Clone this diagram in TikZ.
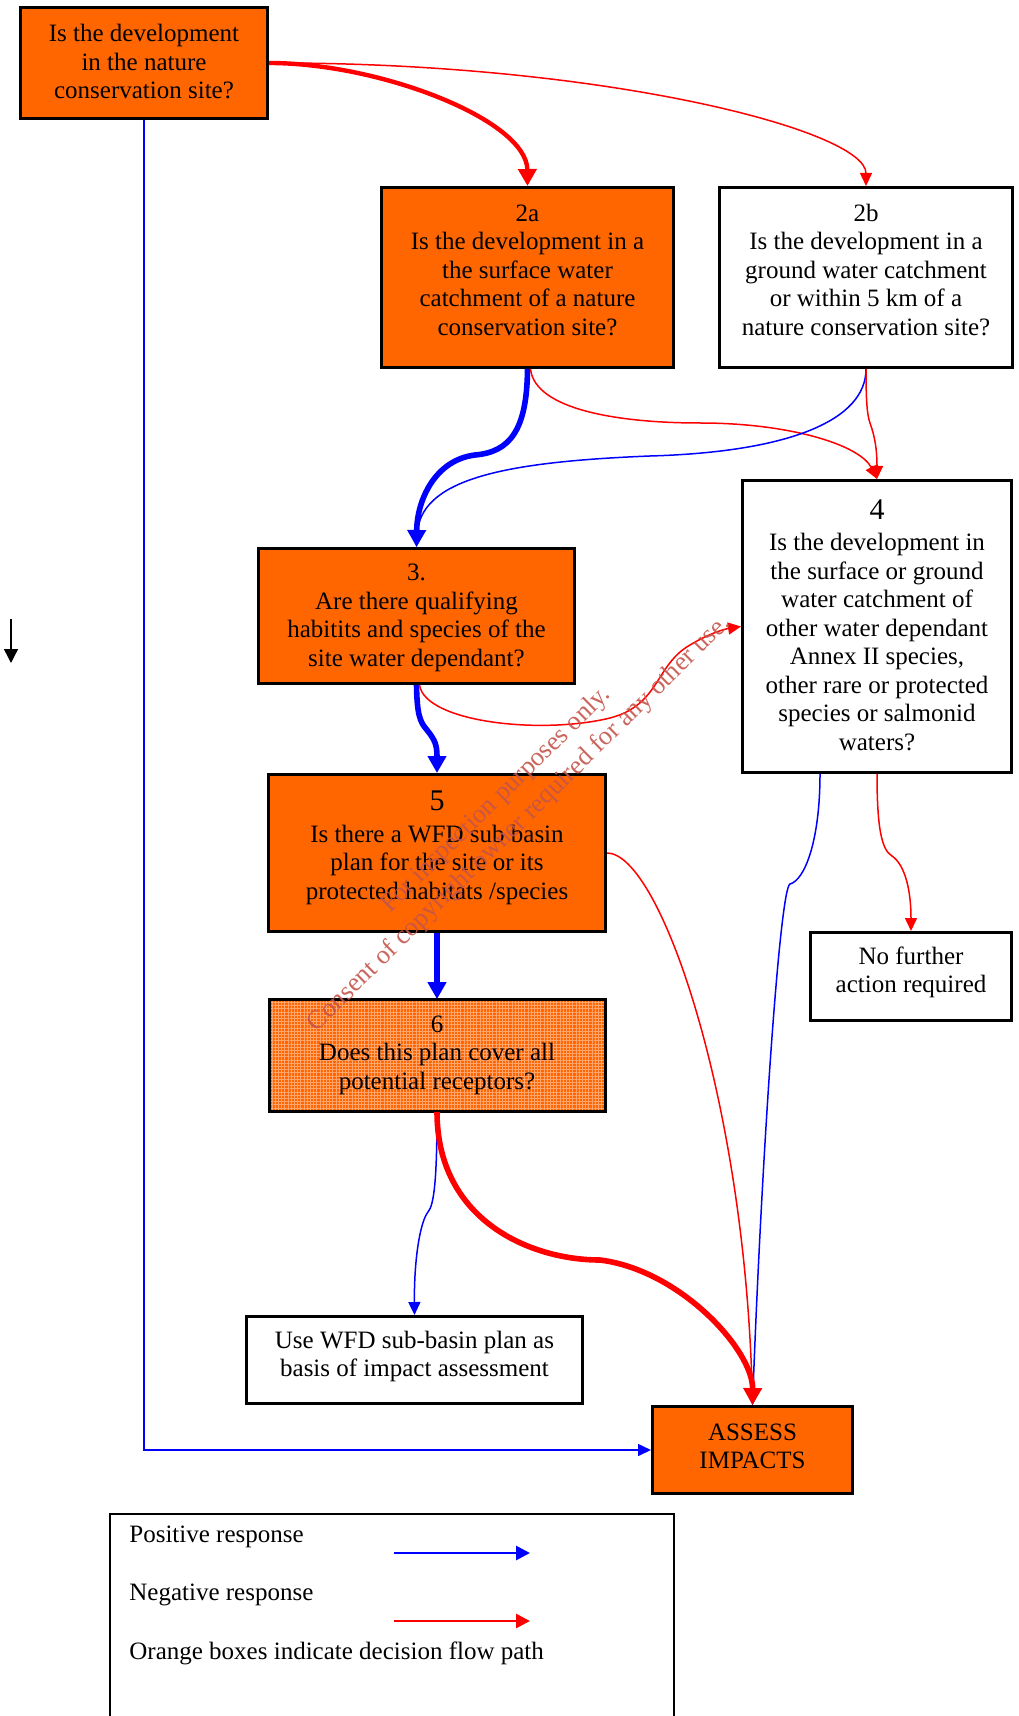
\documentclass[tikz,border=0pt]{standalone}
\usepackage{fontspec}
\setmainfont{Liberation Serif}
\usetikzlibrary{arrows.meta,calc,patterns.meta}
\definecolor{boxorange}{RGB}{255,102,0}
\definecolor{pblue}{RGB}{0,0,255}
\definecolor{nred}{RGB}{255,0,0}
\definecolor{wmark}{RGB}{196,85,75}
\definecolor{gridorange}{RGB}{255,165,110}
\begin{document}
\begin{tikzpicture}[x=0.5pt,y=-0.5pt,
  every node/.style={font=\fontsize{12.5pt}{14.25pt}\selectfont},
  box/.style={draw, line width=1.5pt, rectangle, inner sep=0pt},
  obox/.style={box, fill=boxorange},
  wbox/.style={box, fill=white},
  txt/.style={align=center, inner sep=0pt},
  bluethin/.style={draw=pblue, line width=0.75pt, -{Triangle[length=6.5pt,width=6pt]}},
  redthin/.style={draw=nred, line width=0.75pt, -{Triangle[length=6.5pt,width=6pt]}},
  bluethick/.style={draw=pblue, line width=2.8pt, -{Triangle[length=8.5pt,width=9pt]}},
  redthick/.style={draw=nred, line width=2.8pt, -{Triangle[length=8.5pt,width=9pt]}},
  legarrow/.style={line width=1.4pt, -{Triangle[length=7pt,width=7pt]}}
]
\useasboundingbox (0,0) rectangle (1018,1716);

% boxes
\node[obox, minimum width=123.5pt, minimum height=55.5pt] (n1) at (144,63) {};
\node[txt] (n1t) at (144,62) {Is the development\\in the nature\\conservation site?};

\node[obox, minimum width=146pt, minimum height=90pt] (n2a) at (527.5,277.5) {};
\node[txt] (n2at) at (527.5,270) {2a\\Is the development in a\\the surface water\\catchment of a nature\\conservation site?};

\node[wbox, minimum width=146.5pt, minimum height=90pt] (n2b) at (866,277.5) {};
\node[txt] (n2bt) at (866,270) {2b\\Is the development in a\\ground water catchment\\or within 5 km of a\\nature conservation site?};

\node[wbox, minimum width=134.5pt, minimum height=146pt] (n4) at (877,626.5) {};
\node[txt] (n4t) at (877,625) {{\fontsize{15pt}{16pt}\selectfont 4}\\[1.5pt]Is the development in\\the surface or ground\\water catchment of\\other water dependant\\Annex II species,\\other rare or protected\\species or salmonid\\waters?};

\node[obox, minimum width=158pt, minimum height=67.5pt] (n3) at (416.5,616) {};
\node[txt] (n3t) at (416.5,618) {3.\\Are there qualifying\\habitits and species of the\\site water dependant?};

\node[obox, minimum width=168.5pt, minimum height=78.5pt] (n5) at (437,853) {};
\node[txt] (n5t) at (437,848) {{\fontsize{15pt}{16pt}\selectfont 5}\\[1.5pt]Is there a WFD sub basin\\plan for the site or its\\protected habitats /species};

\node[box, preaction={fill=boxorange}, pattern={Hatch[distance=1.6pt,angle=0,line width=0.35pt]}, pattern color=gridorange, minimum width=168pt, minimum height=56pt] (n6) at (437,1055.5) {};
\node[txt] (n6t) at (437,1055) {6\\Does this plan cover all\\potential receptors?};

\node[wbox, minimum width=100.5pt, minimum height=44pt] (nNo) at (911,976.5) {};
\node[txt] (nNot) at (911,972.5) {No further\\action required};

\node[wbox, minimum width=168pt, minimum height=43.5pt] (nU) at (414.5,1360) {};
\node[txt] (nUt) at (414.5,1356.5) {Use WFD sub-basin plan as\\basis of impact assessment};

\node[obox, minimum width=100pt, minimum height=43.5pt] (nA) at (752.5,1450) {};
\node[txt] (nAt) at (752.5,1446.5) {ASSESS\\IMPACTS};

% connectors
\draw[redthick, line width=2.2pt] (n1.east) .. controls (380,63) and (527,120) .. (n2a.north);
\draw[redthin] (n1.east) .. controls (600,62) and (866,130) .. (n2b.north);
\draw[bluethin] (n1.south) |- (nA.west);

\draw[bluethick] (n2a.south) .. controls (527,430) and (510,452) .. (475,455)
   .. controls (435,460) and (417,500) .. (n3.north);
\draw[redthin] ($(n2a.south)+(3,0)$) .. controls (535,410) and (620,423) .. (700,423)
   .. controls (790,423) and (860,445) .. (n4.north);
\draw[bluethin] (n2b.south) .. controls (866,420) and (790,452) .. (650,456)
   .. controls (500,462) and (420,480) .. (n3.north);
\draw[redthin] (n2b.south) .. controls (866,400) and (867,415) .. (870,423)
   .. controls (875,437) and (877,450) .. (n4.north);

\draw[bluethick] (n3.south) .. controls (417,715) and (420,722) .. (427,730)
   .. controls (435,740) and (437,745) .. (n5.north);
\draw[redthin] ($(n3.south)+(3,0)$) .. controls (425,722) and (540,735) .. (610,718)
   .. controls (660,705) and (655,665) .. (690,645)
   .. controls (710,633) and (725,629) .. (n4.west);

\draw[bluethick] (n5.south) -- (n6.north);
\draw[redthin] (n5.east) .. controls (660,853) and (745,1100) .. (nA.north);

\draw[bluethin] ($(n4.south)+(-57,0)$) .. controls (820,840) and (805,880) .. (790,884)
   .. controls (780,888) and (762,1150) .. (nA.north);
\draw[redthin] (n4.south) .. controls (877,830) and (882,850) .. (892,856)
   .. controls (905,865) and (911,890) .. (nNo.north);

\draw[bluethin] (n6.south) .. controls (437,1180) and (434,1205) .. (428,1212)
   .. controls (420,1222) and (414,1260) .. (nU.north);
\draw[redthick] (n6.south) .. controls (437,1220) and (530,1260) .. (600,1260)
   .. controls (680,1270) and (753,1350) .. (nA.north);

% stray arrow on the left
\coordinate (sa1) at (11,619);
\coordinate (sa2) at (11,663);
\draw[line width=0.7pt, -{Triangle[length=7pt,width=7pt]}] (sa1) -- (sa2);

% legend
\coordinate (lg1) at (110,1716);
\coordinate (lg2) at (674,1514);
\coordinate (lg3) at (674,1716);
\draw[line width=0.8pt] (lg1) |- (lg2) -- (lg3);
\node[anchor=west, inner sep=0pt] (lgt1) at (129,1537) {Positive response};
\node[anchor=west, inner sep=0pt] (lgt2) at (129,1595) {Negative response};
\node[anchor=west, inner sep=0pt] (lgt3) at (129,1653) {Orange boxes indicate decision flow path};
\coordinate (lb1) at (394,1553);
\coordinate (lb2) at (530,1553);
\coordinate (lr1) at (394,1621);
\coordinate (lr2) at (530,1621);
\draw[legarrow, draw=pblue] (lb1) -- (lb2);
\draw[legarrow, draw=nred] (lr1) -- (lr2);

% watermark
\node[rotate=44.5, align=center, text=wmark, inner sep=0pt, opacity=0.9,
      font=\fontsize{13.2pt}{15pt}\selectfont] (wm) at (508,812)
  {For inspection purposes only.\\[1.5pt]Consent of copyright owner required for any other use.};
\end{tikzpicture}
\end{document}
